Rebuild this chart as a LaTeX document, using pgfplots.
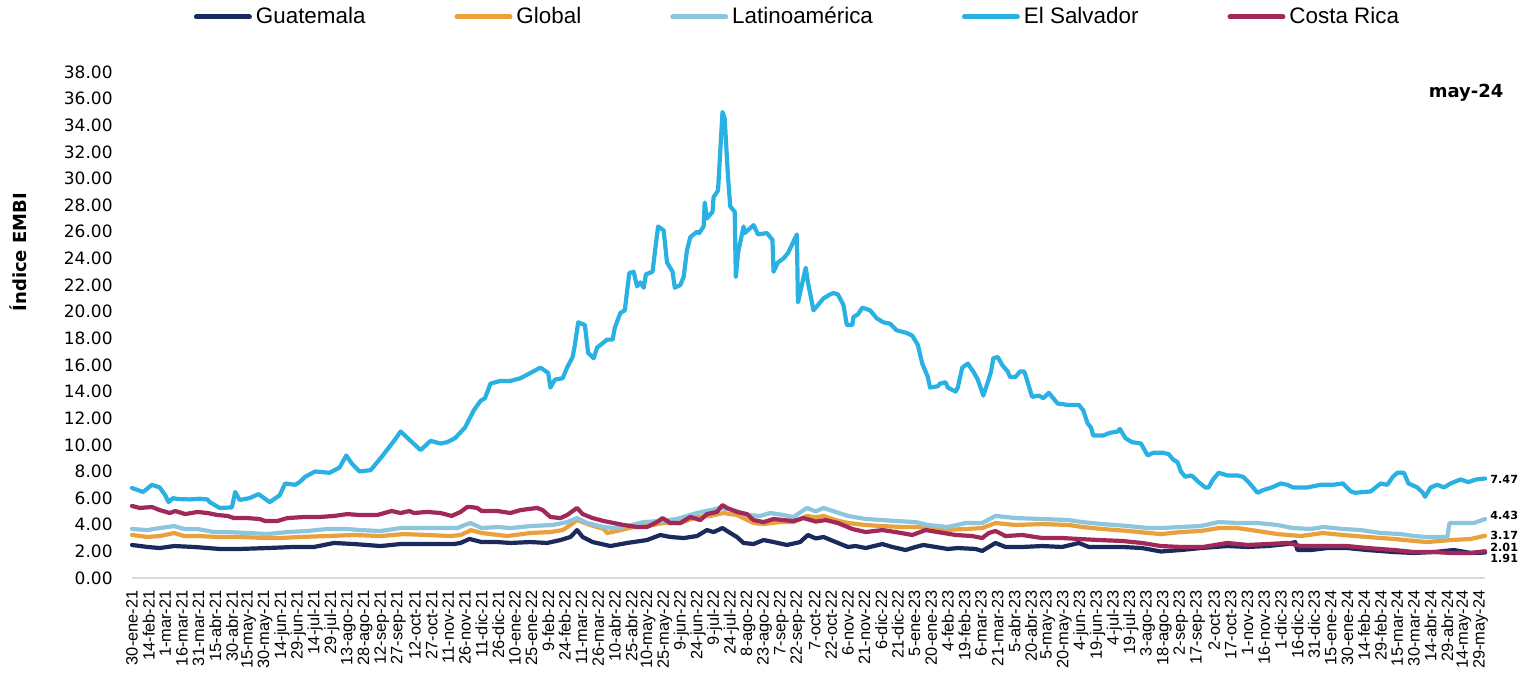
\documentclass[border=0pt]{standalone}
\usepackage{pgfplots}
\pgfplotsset{compat=1.18}
\usepackage{fontspec}
\setmainfont{Liberation Sans}
\newfontfamily\dejavu{DejaVu Sans}
\definecolor{cGU}{HTML}{1B2A5C}
\definecolor{cGL}{HTML}{E9A23B}
\definecolor{cLA}{HTML}{8DC5DD}
\definecolor{cES}{HTML}{2AB1E4}
\definecolor{cCR}{HTML}{A0295A}
\definecolor{axgray}{HTML}{D9D9D9}
\begin{document}
\begin{tikzpicture}
\begin{axis}[
  at={(0,0)}, anchor=south west,
  scale only axis, width=676.5pt, height=253pt,
  xmin=0, xmax=1219, ymin=0, ymax=38,
  clip=false,
  axis x line*=bottom, axis y line*=left,
  x axis line style={draw=axgray, line width=1.3pt},
  y axis line style={draw=none},
  major tick length=0pt,
  xtick={0,15,...,1215},
  xticklabels={30-ene-21,14-feb-21,1-mar-21,16-mar-21,31-mar-21,15-abr-21,30-abr-21,15-may-21,30-may-21,14-jun-21,29-jun-21,14-jul-21,29-jul-21,13-ago-21,28-ago-21,12-sep-21,27-sep-21,12-oct-21,27-oct-21,11-nov-21,26-nov-21,11-dic-21,26-dic-21,10-ene-22,25-ene-22,9-feb-22,24-feb-22,11-mar-22,26-mar-22,10-abr-22,25-abr-22,10-may-22,25-may-22,9-jun-22,24-jun-22,9-jul-22,24-jul-22,8-ago-22,23-ago-22,7-sep-22,22-sep-22,7-oct-22,22-oct-22,6-nov-22,21-nov-22,6-dic-22,21-dic-22,5-ene-23,20-ene-23,4-feb-23,19-feb-23,6-mar-23,21-mar-23,5-abr-23,20-abr-23,5-may-23,20-may-23,4-jun-23,19-jun-23,4-jul-23,19-jul-23,3-ago-23,18-ago-23,2-sep-23,17-sep-23,2-oct-23,17-oct-23,1-nov-23,16-nov-23,1-dic-23,16-dic-23,31-dic-23,15-ene-24,30-ene-24,14-feb-24,29-feb-24,15-mar-24,30-mar-24,14-abr-24,29-abr-24,14-may-24,29-may-24},
  xticklabel style={rotate=90, anchor=east, inner sep=0pt, font=\fontsize{8.2}{9}\selectfont},
  xticklabel shift=6pt,
  ytick={0,2,...,38},
  yticklabel style={font=\dejavu\fontsize{8.5}{10}\selectfont, inner sep=0pt, anchor=east,
    /pgf/number format/.cd, fixed, fixed zerofill, precision=2, assume math mode=true},
  yticklabel shift=9.5pt,
  ylabel={\dejavu\bfseries Índice EMBI},
  ylabel style={at={(axis description cs:-0.0843,0.644)}, anchor=center, font=\fontsize{9}{11}\selectfont},
  legend columns=5,
  legend cell align=left,
  legend image code/.code={\draw[#1, line width=2.5pt, line cap=round] (0pt,0pt) -- (26.5pt,0pt);},
  legend style={at={(axis description cs:0.4926,1.1087)}, anchor=center, draw=none, fill=none,
    font=\fontsize{11.2}{13}\selectfont,
    /tikz/every even column/.append style={column sep=42.5pt}},
  every axis plot/.append style={line width=2.1pt, line join=round, line cap=round},
]
\addplot[cGU] coordinates {(0,2.48) (14,2.33) (25,2.25) (38,2.4) (56,2.33) (79,2.18) (97,2.18) (122,2.25) (146,2.33) (164,2.33) (182,2.63) (200,2.55) (224,2.4) (242,2.55) (266,2.55) (290,2.55) (296,2.63) (304,2.93) (315,2.7) (329,2.7) (341,2.63) (359,2.7) (374,2.63) (386,2.85) (395,3.08) (401,3.6) (406,3.08) (415,2.7) (431,2.4) (446,2.63) (464,2.85) (476,3.23) (485,3.08) (497,3.0) (509,3.15) (518,3.6) (524,3.45) (532,3.75) (539,3.38) (545,3.08) (551,2.63) (560,2.55) (569,2.85) (578,2.7) (590,2.48) (602,2.7) (609,3.23) (616,2.97) (623,3.08) (634,2.7) (645,2.33) (652,2.4) (661,2.25) (676,2.55) (685,2.33) (697,2.1) (706,2.33) (713,2.48) (724,2.33) (735,2.18) (744,2.25) (760,2.18) (766,2.03) (772,2.33) (778,2.63) (787,2.33) (802,2.33) (820,2.4) (838,2.33) (853,2.63) (862,2.33) (874,2.33) (892,2.33) (910,2.25) (927,1.99) (945,2.1) (963,2.25) (987,2.4) (1005,2.33) (1023,2.4) (1041,2.55) (1048,2.7) (1050,2.1) (1062,2.1) (1077,2.25) (1095,2.25) (1113,2.1) (1137,1.95) (1155,1.88) (1173,1.95) (1191,2.1) (1206,1.88) (1219,1.91)};
\addlegendentry{Guatemala}
\addplot[cGL] coordinates {(0,3.23) (14,3.08) (25,3.15) (38,3.38) (47,3.15) (61,3.15) (77,3.08) (97,3.08) (122,3.0) (133,3.0) (151,3.08) (176,3.15) (200,3.23) (224,3.15) (245,3.3) (266,3.23) (287,3.15) (296,3.23) (304,3.53) (305,3.6) (315,3.38) (338,3.15) (359,3.38) (377,3.45) (388,3.6) (395,3.98) (401,4.35) (413,3.98) (425,3.68) (428,3.38) (437,3.53) (452,3.83) (464,3.9) (479,4.13) (494,4.13) (509,4.58) (521,4.66) (533,4.88) (545,4.73) (560,4.13) (569,4.05) (584,4.2) (596,4.2) (608,4.66) (616,4.55) (623,4.66) (634,4.35) (645,4.13) (661,3.98) (676,3.9) (694,3.83) (712,3.83) (730,3.6) (751,3.68) (766,3.75) (778,4.13) (796,3.98) (820,4.05) (844,3.98) (856,3.83) (874,3.68) (898,3.53) (916,3.38) (927,3.3) (945,3.45) (963,3.53) (979,3.75) (996,3.75) (1014,3.53) (1032,3.3) (1053,3.15) (1073,3.38) (1091,3.23) (1113,3.08) (1137,2.93) (1155,2.78) (1167,2.7) (1188,2.85) (1206,2.93) (1219,3.17)};
\addlegendentry{Global}
\addplot[cLA] coordinates {(0,3.68) (14,3.6) (25,3.75) (38,3.9) (47,3.68) (59,3.68) (74,3.45) (86,3.45) (104,3.38) (122,3.3) (140,3.45) (158,3.53) (176,3.68) (194,3.68) (205,3.6) (224,3.53) (242,3.75) (260,3.75) (278,3.75) (293,3.75) (302,4.05) (305,4.13) (315,3.75) (329,3.83) (341,3.75) (359,3.9) (379,3.98) (392,4.2) (401,4.5) (410,4.13) (425,3.83) (434,3.75) (446,3.9) (461,4.2) (476,4.28) (491,4.43) (509,4.88) (521,5.1) (530,5.26) (542,5.1) (554,4.73) (566,4.66) (575,4.88) (587,4.73) (596,4.58) (608,5.26) (616,5.0) (623,5.26) (634,4.96) (645,4.66) (661,4.43) (676,4.35) (688,4.28) (706,4.2) (717,3.98) (735,3.83) (751,4.13) (766,4.13) (778,4.66) (796,4.5) (820,4.43) (844,4.35) (856,4.2) (874,4.05) (898,3.9) (916,3.75) (927,3.75) (945,3.83) (963,3.9) (979,4.2) (996,4.13) (1014,4.13) (1032,3.98) (1046,3.75) (1062,3.68) (1073,3.83) (1091,3.68) (1107,3.6) (1125,3.38) (1143,3.3) (1155,3.15) (1167,3.08) (1185,3.08) (1187,4.13) (1209,4.13) (1219,4.43)};
\addlegendentry{Latinoamérica}
\addplot[cES] coordinates {(0,6.76) (10,6.46) (18,7.0) (25,6.8) (30,6.2) (33,5.7) (37,6.0) (41,5.93) (52,5.9) (61,5.95) (68,5.9) (70,5.7) (79,5.26) (90,5.3) (93,6.46) (97,5.86) (106,6.0) (114,6.3) (124,5.7) (133,6.2) (138,7.1) (147,7.0) (151,7.2) (156,7.6) (165,8.0) (178,7.9) (187,8.3) (193,9.2) (198,8.6) (205,8.0) (215,8.1) (224,9.0) (237,10.4) (242,11.0) (251,10.3) (260,9.6) (269,10.3) (278,10.1) (284,10.2) (291,10.5) (300,11.3) (308,12.6) (314,13.3) (318,13.5) (323,14.6) (332,14.8) (341,14.8) (350,15.0) (359,15.4) (368,15.8) (375,15.4) (377,14.3) (381,14.9) (388,15.0) (392,15.8) (397,16.6) (399,17.5) (402,19.2) (408,19.0) (411,16.9) (416,16.5) (419,17.3) (428,17.9) (433,17.9) (435,18.8) (440,19.9) (444,20.1) (448,22.9) (452,23.0) (455,21.9) (458,22.2) (461,21.8) (463,22.8) (469,23.0) (471,24.4) (474,26.4) (479,26.1) (482,23.7) (487,23.0) (489,21.8) (494,22.0) (497,22.6) (500,24.6) (503,25.6) (509,26.0) (511,25.9) (515,26.4) (516,28.2) (518,27.0) (523,27.5) (524,28.6) (528,29.1) (532,35.0) (534,34.5) (537,30.1) (539,27.9) (543,27.5) (544,22.6) (546,24.4) (551,26.4) (552,25.9) (560,26.5) (564,25.8) (572,25.9) (577,25.4) (578,23.0) (582,23.7) (587,24.0) (591,24.4) (599,25.8) (600,20.7) (607,23.3) (609,22.2) (614,20.1) (623,21.0) (629,21.3) (632,21.4) (636,21.3) (641,20.5) (644,19.0) (649,19.0) (650,19.6) (654,19.8) (658,20.3) (665,20.1) (671,19.5) (677,19.2) (683,19.1) (689,18.6) (698,18.4) (703,18.2) (708,17.5) (712,16.1) (717,15.1) (719,14.3) (726,14.4) (728,14.6) (733,14.7) (735,14.3) (742,14.0) (744,14.3) (748,15.8) (753,16.1) (758,15.5) (762,14.9) (767,13.7) (771,14.7) (774,15.5) (776,16.5) (780,16.6) (784,16.0) (789,15.5) (791,15.1) (796,15.1) (800,15.5) (804,15.5) (811,13.6) (817,13.7) (821,13.5) (826,13.9) (834,13.1) (843,13.0) (853,13.0) (857,12.6) (861,11.6) (864,11.3) (866,10.7) (875,10.7) (881,10.9) (888,11.0) (890,11.2) (895,10.5) (901,10.2) (909,10.1) (915,9.2) (920,9.4) (929,9.4) (934,9.3) (938,8.9) (942,8.7) (945,8.0) (949,7.6) (954,7.7) (956,7.6) (961,7.2) (967,6.8) (970,6.8) (974,7.4) (979,7.9) (987,7.7) (996,7.7) (1001,7.6) (1006,7.2) (1010,6.8) (1014,6.4) (1019,6.6) (1027,6.8) (1035,7.1) (1041,7.0) (1046,6.8) (1059,6.8) (1071,7.0) (1082,7.0) (1091,7.1) (1098,6.5) (1102,6.4) (1116,6.5) (1125,7.1) (1131,7.0) (1136,7.6) (1140,7.9) (1146,7.9) (1150,7.1) (1158,6.8) (1163,6.4) (1165,6.1) (1170,6.8) (1176,7.0) (1182,6.8) (1188,7.1) (1197,7.4) (1204,7.2) (1211,7.4) (1219,7.47)};
\addlegendentry{El Salvador}
\addplot[cCR] coordinates {(0,5.41) (7,5.26) (18,5.33) (25,5.1) (34,4.88) (39,5.03) (48,4.8) (59,4.96) (68,4.88) (77,4.73) (86,4.66) (92,4.5) (104,4.5) (115,4.43) (120,4.28) (131,4.28) (140,4.5) (155,4.58) (169,4.58) (182,4.66) (194,4.8) (205,4.73) (221,4.73) (234,5.03) (242,4.88) (250,5.03) (254,4.88) (266,4.96) (278,4.88) (288,4.66) (296,4.96) (302,5.33) (305,5.33) (311,5.26) (315,5.03) (329,5.03) (341,4.88) (350,5.1) (365,5.26) (370,5.1) (377,4.58) (386,4.5) (392,4.73) (401,5.26) (406,4.8) (415,4.5) (425,4.28) (434,4.13) (443,3.98) (455,3.83) (464,3.83) (473,4.2) (478,4.5) (485,4.13) (494,4.13) (503,4.58) (512,4.35) (518,4.8) (527,4.96) (532,5.48) (536,5.26) (545,4.96) (554,4.8) (560,4.35) (569,4.2) (578,4.43) (587,4.35) (596,4.28) (605,4.5) (616,4.24) (625,4.35) (636,4.13) (649,3.68) (661,3.45) (676,3.6) (688,3.45) (703,3.23) (715,3.6) (726,3.45) (742,3.23) (757,3.15) (766,3.0) (772,3.38) (778,3.53) (787,3.15) (802,3.23) (820,3.0) (838,3.0) (853,2.93) (871,2.85) (892,2.78) (910,2.63) (927,2.4) (945,2.33) (965,2.33) (987,2.63) (1005,2.48) (1023,2.55) (1041,2.63) (1053,2.4) (1071,2.4) (1095,2.4) (1113,2.25) (1137,2.1) (1155,1.95) (1173,1.95) (1188,1.88) (1206,1.88) (1219,2.01)};
\addlegendentry{Costa Rica}
\node[anchor=west, inner sep=0pt, xshift=2.5pt, font=\dejavu\bfseries\fontsize{5.6}{7}\selectfont] at (axis cs:1219,7.43) {7.47};
\node[anchor=west, inner sep=0pt, xshift=2.5pt, font=\dejavu\bfseries\fontsize{5.6}{7}\selectfont] at (axis cs:1219,4.73) {4.43};
\node[anchor=west, inner sep=0pt, xshift=2.5pt, font=\dejavu\bfseries\fontsize{5.6}{7}\selectfont] at (axis cs:1219,3.23) {3.17};
\node[anchor=west, inner sep=0pt, xshift=2.5pt, font=\dejavu\bfseries\fontsize{5.6}{7}\selectfont] at (axis cs:1219,2.33) {2.01};
\node[anchor=west, inner sep=0pt, xshift=2.5pt, font=\dejavu\bfseries\fontsize{5.6}{7}\selectfont] at (axis cs:1219,1.5) {1.91};
\node[font=\dejavu\bfseries\fontsize{9}{11}\selectfont] at (axis description cs:0.986,0.958) {may-24};
\end{axis}
\pgfresetboundingbox
\path[use as bounding box] (-66pt,-47.5pt) rectangle (699pt,289pt);
\end{tikzpicture}
\end{document}
